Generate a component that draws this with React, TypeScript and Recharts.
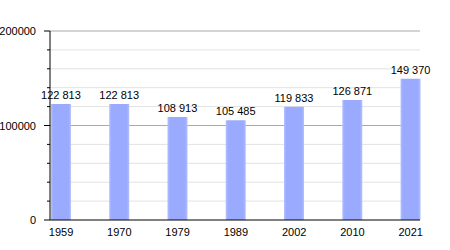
import React from "react";
import { BarChart, Bar, XAxis, YAxis, CartesianGrid, LabelList } from "recharts";

const years = ["1959", "1970", "1979", "1989", "2002", "2010", "2021"];
const population = [122813, 122813, 108913, 105485, 119833, 126871, 149370];
const yTicks = [0, 20000, 40000, 60000, 80000, 100000, 120000, 140000, 160000, 180000, 200000];
const majorTicks = [0, 100000, 200000];

const data = years.map((y, i) => ({ idx: i, year: y, value: population[i] }));

const FONT = "'Liberation Sans', Arial, sans-serif";

const fmt = (v: number) => String(v).replace(/\B(?=(\d{3})+(?!\d))/g, " ");

const YTick = (props: any) => {
  const { y, payload } = props;
  const major = majorTicks.includes(payload.value);
  return (
    <g>
      <line x1={major ? 44 : 47} x2={50} y1={y} y2={y} stroke="#000" strokeWidth={1} />
      {major && (
        <text x={36} y={y + 4} textAnchor="end" fontSize={11} fontFamily={FONT} fill="#000">
          {payload.value}
        </text>
      )}
    </g>
  );
};

const GridLine = (props: any) => {
  const { x1, x2, y1, y2, index, key } = props;
  const v = yTicks[yTicks.length - 1 - index] ?? yTicks[index];
  const isMajor = Math.abs(y1 - 31) < 1 || Math.abs(y1 - 125.5) < 1.5;
  if (Math.abs(y1 - 220) < 1) return <g key={key} />;
  return (
    <line
      key={key}
      x1={x1}
      x2={x2}
      y1={y1}
      y2={y2}
      stroke={isMajor ? "#aaaaaa" : "#e2e2e2"}
      strokeWidth={1}
      data-v={v}
    />
  );
};

const BarLabel = (props: any) => {
  const { x, y, width, value } = props;
  return (
    <text
      x={Number(x) + Number(width) / 2}
      y={Number(y) - 5}
      textAnchor="middle"
      fontSize={11}
      fontFamily={FONT}
      fill="#000"
    >
      {fmt(Number(value))}
    </text>
  );
};

export default function App() {
  return (
    <div style={{ position: "absolute", left: 0, top: 0, background: "#fff" }}>
      <BarChart
        width={450}
        height={250}
        data={data}
        margin={{ top: 31, right: 30, left: 0, bottom: 0 }}
      >
        <defs>
          <linearGradient id="barGrad" x1="0" y1="0" x2="1" y2="0">
            <stop offset="0%" stopColor="#b4c0ff" />
            <stop offset="12%" stopColor="#9aabff" />
            <stop offset="88%" stopColor="#9aabff" />
            <stop offset="100%" stopColor="#b4c0ff" />
          </linearGradient>
        </defs>
        <CartesianGrid vertical={false} horizontal={(p: any) => <GridLine {...p} />} />
        <XAxis
          type="number"
          dataKey="idx"
          domain={[-0.19, 6.16]}
          ticks={[0, 1, 2, 3, 4, 5, 6]}
          tickFormatter={(v: number) => years[v]}
          allowDecimals={false}
          height={30}
          axisLine={{ stroke: "#000" }}
          tickLine={false}
          tick={{ fontSize: 11, fontFamily: FONT, fill: "#000" }}
          tickMargin={2}
        />
        <YAxis
          type="number"
          domain={[0, 200000]}
          ticks={yTicks}
          width={50}
          axisLine={{ stroke: "#000" }}
          tickLine={false}
          tick={<YTick />}
          interval={0}
        />
        <Bar dataKey="value" fill="url(#barGrad)" barSize={20} isAnimationActive={false}>
          <LabelList dataKey="value" content={<BarLabel />} />
        </Bar>
      </BarChart>
    </div>
  );
}
